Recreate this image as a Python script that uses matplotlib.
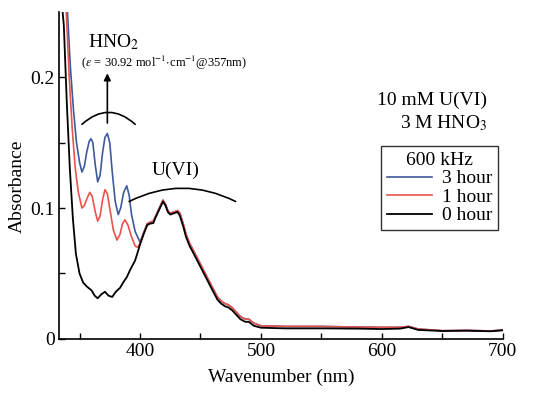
import matplotlib
matplotlib.use("Agg")
import matplotlib.pyplot as plt

plt.rcParams.update({
    "font.family": ["Liberation Serif", "DejaVu Serif"],
    "mathtext.fontset": "stix",
    "font.size": 14,
})

# 0 hour (black)
wl_0h = [334, 337, 339.5, 342, 344.5, 347, 350, 353, 356, 360, 362.5, 365, 368, 371,
         374, 377, 380, 383.5, 386, 389, 392, 396, 400, 403, 406, 408, 411, 413, 416,
         419, 421, 423, 425, 428, 431, 433, 436, 438, 441, 445, 450, 455, 460, 464,
         467, 470, 473, 476, 479, 483, 487, 490, 494, 500, 520, 550, 580, 600, 615,
         622, 630, 650, 670, 690, 700]
abs_0h = [0.27, 0.24, 0.18, 0.13, 0.092, 0.065, 0.050, 0.043, 0.040, 0.037, 0.033,
          0.031, 0.034, 0.036, 0.033, 0.032, 0.036, 0.039, 0.043, 0.047, 0.053, 0.060,
          0.072, 0.080, 0.087, 0.088, 0.0885, 0.093, 0.099, 0.105, 0.102, 0.097, 0.095,
          0.096, 0.097, 0.094, 0.085, 0.078, 0.071, 0.064, 0.055, 0.046, 0.037, 0.030,
          0.027, 0.025, 0.024, 0.022, 0.019, 0.015, 0.013, 0.013, 0.010, 0.0085, 0.008,
          0.008, 0.0078, 0.0075, 0.0078, 0.009, 0.0068, 0.006, 0.0062, 0.0058, 0.0065]

# 1 hour (red), HNO2 region
wl_1h_low = [339, 341.5, 344, 346.5, 349, 352, 354, 356.5, 358.5, 360.5, 363, 365, 367,
             369, 371, 373, 375.5, 378, 381, 383.5, 385.5, 387.6, 390, 393, 396, 398, 400]
abs_1h_low = [0.25, 0.20, 0.16, 0.13, 0.112, 0.100, 0.102, 0.108, 0.112, 0.109, 0.097,
              0.090, 0.094, 0.106, 0.114, 0.111, 0.097, 0.083, 0.0755, 0.080, 0.088,
              0.091, 0.087, 0.078, 0.071, 0.070, 0.073]

# 3 hour (blue), HNO2 region
wl_3h_low = [340, 342.5, 345, 347.5, 350, 352, 354, 356, 358, 359.5, 361, 363, 365, 367,
             369, 371, 373, 375, 377, 379.5, 382, 384, 386.5, 389, 391, 393, 396, 400]
abs_3h_low = [0.25, 0.207, 0.175, 0.150, 0.135, 0.1275, 0.132, 0.143, 0.151, 0.153,
              0.150, 0.133, 0.120, 0.125, 0.142, 0.154, 0.157, 0.150, 0.128, 0.105,
              0.095, 0.100, 0.112, 0.117, 0.110, 0.095, 0.082, 0.074]

# U(VI) band after irradiation (shared by 1 h and 3 h)
wl_irr = [403, 406, 408, 411, 413, 416, 419, 421, 423, 425, 428, 431, 433, 436, 438,
          441, 445, 450, 455, 460, 464, 467, 470, 473, 476, 479, 483, 487, 490, 494,
          500, 520, 550, 580, 600, 615, 622, 630, 650, 670, 690, 700]
abs_irr = [0.081, 0.088, 0.089, 0.090, 0.094, 0.100, 0.106, 0.103, 0.098, 0.096, 0.097,
           0.098, 0.096, 0.087, 0.080, 0.073, 0.066, 0.057, 0.048, 0.039, 0.032, 0.029,
           0.027, 0.026, 0.024, 0.021, 0.017, 0.015, 0.015, 0.012, 0.010, 0.0095,
           0.0095, 0.009, 0.0088, 0.0088, 0.0095, 0.0075, 0.0062, 0.0065, 0.006, 0.0068]

fig = plt.figure(figsize=(5.46, 3.94), dpi=100)
ax = fig.add_axes([0.108, 0.14, 0.813, 0.83])

ax.plot(wl_3h_low + wl_irr, abs_3h_low + abs_irr, color="#40599a", lw=1.2, label="3 hour")
ax.plot(wl_1h_low + wl_irr, abs_1h_low + abs_irr, color="#e8534c", lw=1.2, label="1 hour")
ax.plot(wl_0h, abs_0h, color="black", lw=1.3, label="0 hour")

ax.set_xlim(333, 700)
ax.set_ylim(0, 0.25)
ax.set_xticks([400, 500, 600, 700])
ax.set_xticks([350, 450, 550, 650], minor=True)
ax.set_yticks([0, 0.1, 0.2])
ax.set_yticklabels(["0", "0.1", "0.2"])
ax.set_yticks([0.05, 0.15], minor=True)
ax.tick_params(which="both", direction="in", length=4, width=1)
ax.tick_params(labelsize=14, pad=3)
for s in ["top", "right"]:
    ax.spines[s].set_visible(False)
ax.spines["left"].set_linewidth(1.2)
ax.spines["bottom"].set_linewidth(1.2)

ax.set_xlabel("Wavenumber (nm)", fontsize=14, labelpad=6)
ax.set_ylabel("Absorbance", fontsize=14)
ax.yaxis.set_label_coords(-0.075, 0.465)

# HNO2 annotation
ax.text(378, 0.227, "HNO$_2$", ha="center", va="center", fontsize=14)
ax.text(420, 0.211, r"($\epsilon$ = 30.92 mol$^{-1}$$\cdot$cm$^{-1}$@357nm)",
        ha="center", va="center", fontsize=9)
ax.annotate("", xy=(396, 0.164), xytext=(352, 0.164),
            arrowprops=dict(arrowstyle="-", color="black", lw=1.2,
                            connectionstyle="arc3,rad=-0.45", shrinkA=0, shrinkB=0))
ax.annotate("", xy=(373, 0.203), xytext=(373, 0.165),
            arrowprops=dict(arrowstyle="-|>", color="black", lw=1.2, mutation_scale=10,
                            shrinkA=0, shrinkB=0))

# U(VI) annotation
ax.text(429, 0.129, "U(VI)", ha="center", va="center", fontsize=14)
ax.annotate("", xy=(479, 0.105), xytext=(391, 0.105),
            arrowprops=dict(arrowstyle="-", color="black", lw=1.2,
                            connectionstyle="arc3,rad=-0.25", shrinkA=0, shrinkB=0))

ax.text(687, 0.1825, "10 mM U(VI)", ha="right", va="center", fontsize=14)
ax.text(687, 0.165, "3 M HNO$_3$", ha="right", va="center", fontsize=14)

leg = ax.legend(title="600 kHz", loc="upper right", bbox_to_anchor=(0.989, 0.59),
                fontsize=14, title_fontsize=14, frameon=True, fancybox=False,
                edgecolor="black", handlelength=2.3, handletextpad=0.5,
                labelspacing=0.05, borderpad=0.3, borderaxespad=0)
leg.get_frame().set_linewidth(1.0)

plt.savefig("out.png", dpi=100)
